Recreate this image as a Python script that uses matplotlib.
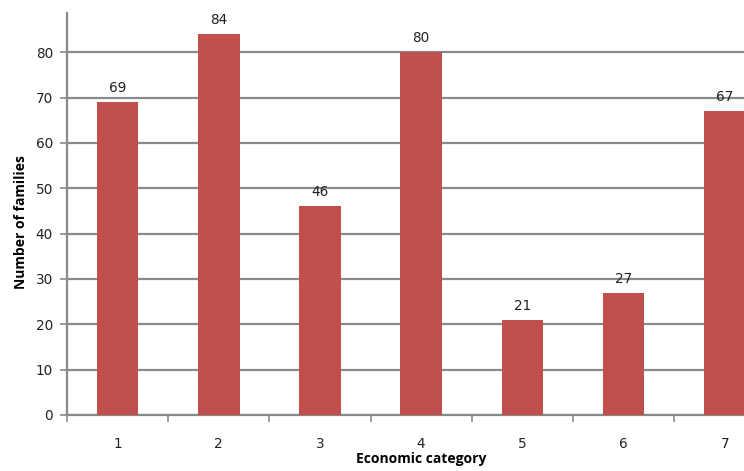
import matplotlib.pyplot as plt
import numpy as np

# --- Data ---
categories = [1, 2, 3, 4, 5, 6, 7]
families = [69, 84, 46, 80, 21, 27, 67]
y_ticks = [0, 10, 20, 30, 40, 50, 60, 70, 80]

bar_color = '#C0504D'
grid_color = '#8A8A8A'

fig = plt.figure(figsize=(7.44, 4.71), dpi=100)
ax = fig.add_axes([67 / 744, 56 / 471, 677 / 744, 415 / 471])

ax.bar(categories, families, width=0.41, color=bar_color, zorder=3)

# value labels above each bar
for x, v in zip(categories, families):
    ax.annotate(str(v), (x, v), xytext=(0, 5), textcoords='offset points',
                ha='center', va='bottom', fontsize=9.8, color='#222222')

ax.set_xlim(0.5, 7.19)
ax.set_ylim(0, 91.5)

# horizontal gridlines behind bars
ax.set_yticks(y_ticks)
ax.yaxis.grid(True, color=grid_color, linewidth=1.6, zorder=0)
ax.set_axisbelow(True)

# spines
for s in ['top', 'right']:
    ax.spines[s].set_visible(False)
ax.spines['left'].set_color(grid_color)
ax.spines['left'].set_linewidth(1.6)
ax.spines['left'].set_bounds(0, 88.7)
ax.spines['bottom'].set_color(grid_color)
ax.spines['bottom'].set_linewidth(1.6)

# y ticks
ax.tick_params(axis='y', length=5, width=1.2, color=grid_color, pad=5,
               labelsize=9.8, labelcolor='#222222')

# x: labels at category centres, tick marks between categories
ax.set_xticks(categories)
ax.set_xticks(np.arange(0.5, 7.5, 1), minor=True)
ax.tick_params(axis='x', which='major', length=0, pad=16, labelsize=9.8,
               labelcolor='#222222')
ax.tick_params(axis='x', which='minor', length=5, width=1.2, color=grid_color)

ax.set_xlabel('Economic category', fontsize=10, fontweight='bold',
              family='Open Sans')
ax.xaxis.set_label_coords(0.523, -0.088)
ax.set_ylabel('Number of families', fontsize=10, fontweight='bold',
              family='Open Sans')
ax.yaxis.set_label_coords(-0.058, 0.465)

fig.savefig('out.png', dpi=100)
plt.close(fig)
